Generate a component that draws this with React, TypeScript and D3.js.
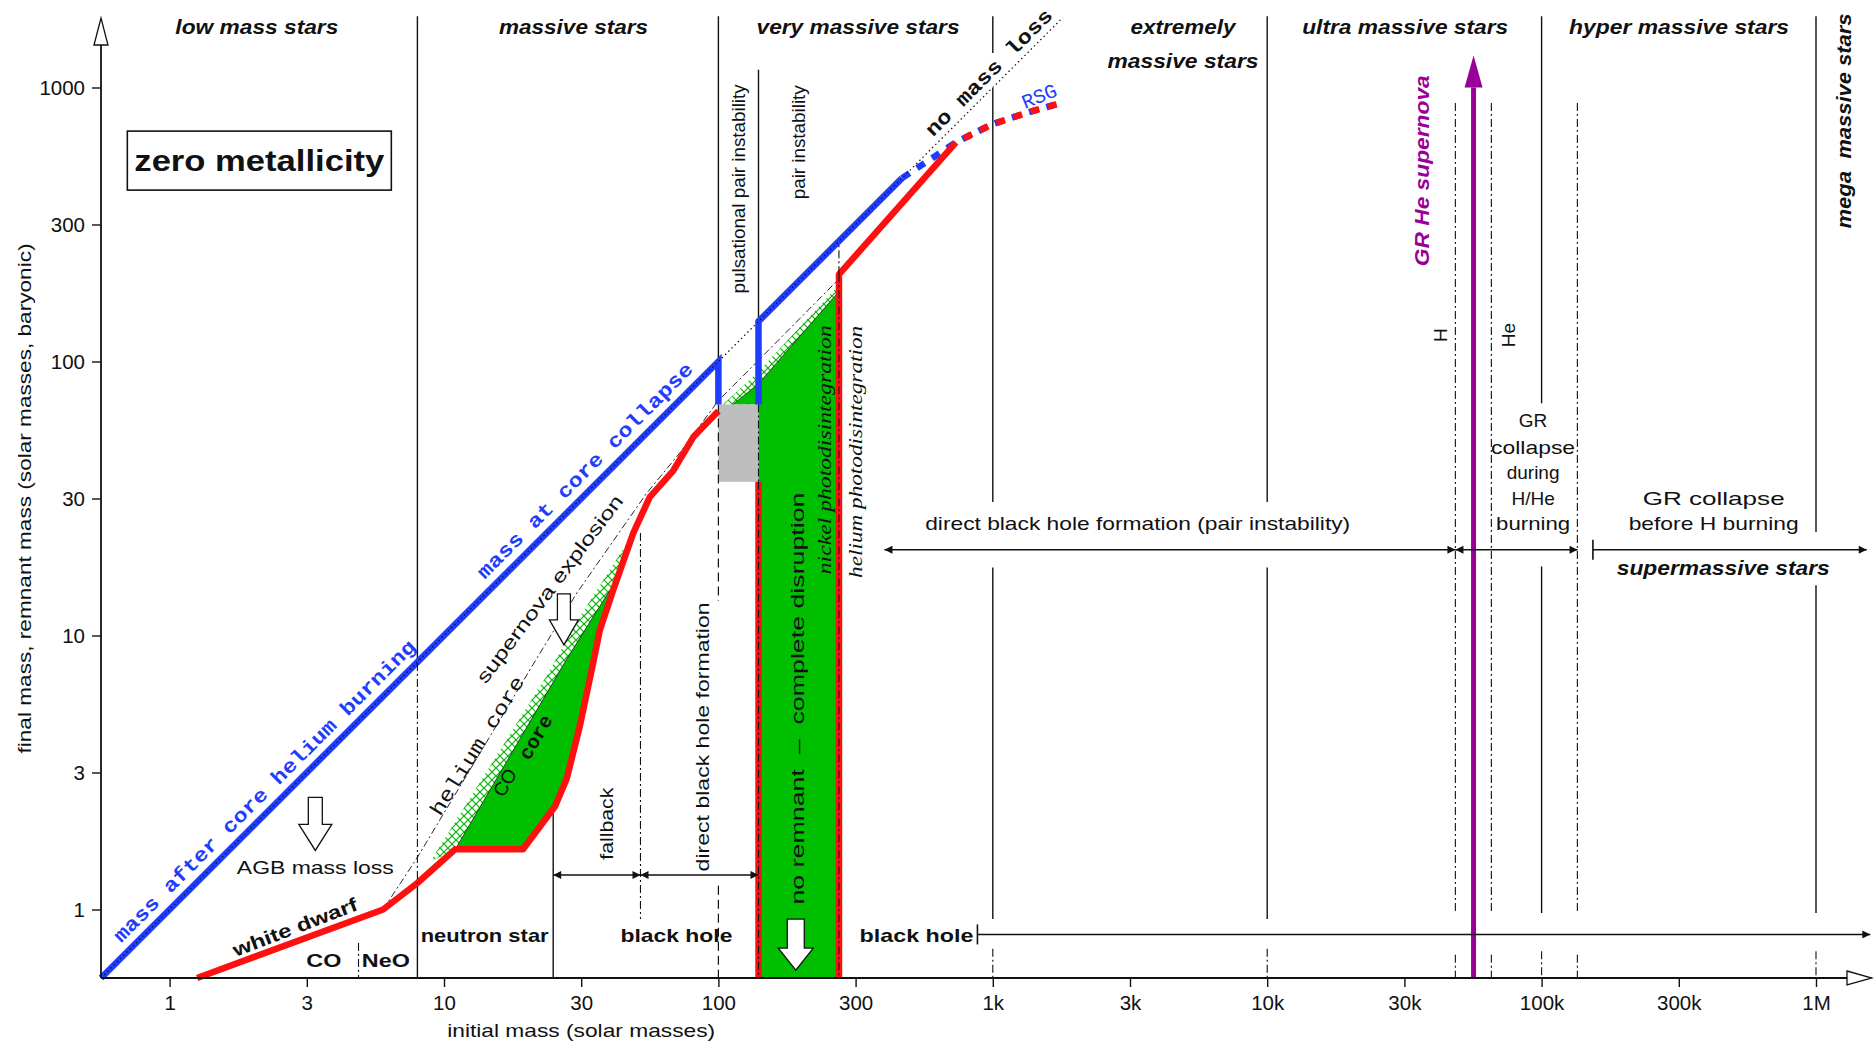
import React, { useEffect, useRef } from 'react';
import * as d3 from 'd3';

const W = 1874;
const H = 1046;
const MIN = 10 ** -0.25;

// tick labels on half decades
const xTickLabels = ['1', '3', '10', '30', '100', '300', '1k', '3k', '10k', '30k', '100k', '300k', '1M'];
const yTickLabels = ['1', '3', '10', '30', '100', '300', '1000'];

// initial mass vs final mass (solar masses)
const noMassLoss = [[MIN, MIN], [1800, 1800]];
const heliumBurningMass = [[MIN, MIN], [100, 100], [100, 69.7]];
const coreCollapseMass = [[140, 69.7], [140, 140], [467, 467]];
const coreCollapseRSG = [[467, 467], [734, 631], [991, 733], [1340, 811], [1775, 878]];
const remnantMass = [
  [1.26, MIN], [6, 1], [8, 1.25], [11, 1.66], [19.4, 1.66], [25.4, 2.38], [28, 3], [31.3, 4.7],
  [35, 8], [37, 10.5], [41.4, 14.7], [48.9, 23.6], [56.2, 32], [68.5, 40], [81, 53], [100, 66],
];
const remnantPPI = [[140, 36.4], [140, MIN]];
const remnantHigh = [[275, MIN], [275, 208], [734, 631]];
const remnantRSG = [[734, 631], [991, 733], [1340, 811], [1775, 878]];
const heliumCore = [
  [6, 1], [8, 1.55], [21.7, 8.2], [30.5, 14.3], [54.7, 33], [72.2, 46.3], [100, 72], [140, 101], [275, 200],
];
const coCoreLow = [[11, 1.66], [28, 8.2], [40, 14.5]];
const coCoreHigh = [[113, 69.7], [140, 83], [275, 180]];
const hatchTopLow = [[8.9, 1.49], [23.6, 7.1], [31.3, 11.7], [48.9, 23.6]];
const hatchTopHigh = [[104, 69.7], [140, 92], [275, 190]];
const ppiBox = { x0: 100, x1: 140, y0: 36.4, y1: 69.7 };
const TOP = 10 ** 3.26;

// vertical markers: [initial mass, from, to]
const solidSegments = [
  [8, TOP, 10 ** 0.9], [8, 10 ** 0.087, MIN],
  [25, 2.36, MIN],
  [100, TOP, 100],
  [140, 10 ** 3.065, 140],
  [1e3, TOP, 10 ** 3.126], [1e3, 10 ** 2.998, 10 ** 1.487], [1e3, 10 ** 1.248, 10 ** -0.035],
  [1e4, TOP, 10 ** 1.487], [1e4, 10 ** 1.248, 10 ** -0.035],
  [1e5, TOP, 10 ** 1.848], [1e5, 10 ** 1.252, 10 ** -0.013],
  [1e6, TOP, 10 ** 1.378], [1e6, 10 ** 1.183, 10 ** -0.013],
];
const dashDotSegments = [
  [8, 10 ** 0.9, 10 ** 0.087],
  [52, 10 ** 1.374, 10 ** -0.035],
  [4.88, 10 ** -0.122, MIN],
  [140, 69.7, 36.4],
  [275, 208, 268],
  [140, 36.4, MIN], [275, 208, MIN],
  [1e3, 10 ** -0.143, MIN], [1e4, 10 ** -0.143, MIN],
  [1e5, 10 ** -0.152, MIN], [1e6, 10 ** -0.152, MIN],
  [48.5e3, 10 ** 2.943, 10 ** -0.013], [48.5e3, 10 ** -0.165, MIN],
  [65.6e3, 10 ** 2.943, 10 ** -0.013], [65.6e3, 10 ** -0.165, MIN],
  [135e3, 10 ** 2.943, 10 ** -0.013], [135e3, 10 ** -0.165, MIN],
];
const dashedSegments = [
  [100, 69.7, 10 ** 1.126], [100, 10 ** 0.087, MIN],
];

// horizontal range arrows, in log10 units: [from, to, at, style]
const rangeArrows = [
  [Math.log10(25), Math.log10(52), 0.126, 'both'],
  [Math.log10(52), Math.log10(140), 0.126, 'both'],
  [2.605, 4.686, 1.313, 'both'],
  [4.686, 5.131, 1.313, 'both'],
  [5.187, 6.185, 1.313, 'bar'],
  [2.944, 6.198, -0.091, 'bar'],
];

// annotations in log10 units
const labels = [
  { t: 'low mass stars', lx: 0.318, ly: 3.222, k: 'region', len: 163 },
  { t: 'massive stars', lx: 1.472, ly: 3.222, k: 'region', len: 149 },
  { t: 'very massive stars', lx: 2.509, ly: 3.222, k: 'region', len: 203 },
  { t: 'extremely', lx: 3.693, ly: 3.222, k: 'region', len: 105 },
  { t: 'massive stars', lx: 3.693, ly: 3.096, k: 'region', len: 151 },
  { t: 'ultra massive stars', lx: 4.503, ly: 3.222, k: 'region', len: 206 },
  { t: 'hyper massive stars', lx: 5.501, ly: 3.222, k: 'region', len: 220 },
  { t: 'mega  massive stars', lx: 6.102, ly: 2.878, k: 'region', len: 215, r: -90 },
  { t: 'supermassive stars', lx: 5.662, ly: 1.248, k: 'region', len: 213 },
  { t: 'pulsational pair instability', lx: 2.073, ly: 2.63, k: 'plain', len: 209, r: -90 },
  { t: 'pair instability', lx: 2.291, ly: 2.8, k: 'plain', len: 114, r: -90 },
  { t: 'supernova explosion', lx: 1.385, ly: 1.17, k: 'plain', len: 230, r: -53 },
  { t: 'AGB mass loss', lx: 0.531, ly: 0.152, k: 'plain', len: 157 },
  { t: 'fallback', lx: 1.594, ly: 0.313, k: 'plain', len: 72, r: -90 },
  { t: 'direct black hole formation', lx: 1.942, ly: 0.63, k: 'plain', len: 269, r: -90 },
  { t: 'no remnant  \u2013  complete disruption', lx: 2.287, ly: 0.77, k: 'plain', len: 412, r: -90 },
  { t: 'direct black hole formation (pair instability)', lx: 3.528, ly: 1.409, k: 'plain', len: 425 },
  { t: 'GR', lx: 4.969, ly: 1.783, k: 'plain' },
  { t: 'collapse', lx: 4.969, ly: 1.687, k: 'plain', len: 84 },
  { t: 'during', lx: 4.969, ly: 1.596, k: 'plain' },
  { t: 'H/He', lx: 4.969, ly: 1.5, k: 'plain' },
  { t: 'burning', lx: 4.969, ly: 1.409, k: 'plain', len: 74 },
  { t: 'GR collapse', lx: 5.627, ly: 1.5, k: 'plain', len: 142 },
  { t: 'before H burning', lx: 5.627, ly: 1.409, k: 'plain', len: 170 },
  { t: 'H', lx: 4.63, ly: 2.096, k: 'plain', r: -90 },
  { t: 'He', lx: 4.878, ly: 2.096, k: 'plain', r: -90 },
  { t: 'CO', lx: 1.222, ly: 0.463, k: 'plain', r: -60 },
  { t: 'white dwarf', lx: 0.457, ly: -0.065, k: 'bold', len: 132, r: -21 },
  { t: 'CO', lx: 0.562, ly: -0.187, k: 'bold', len: 35 },
  { t: 'NeO', lx: 0.788, ly: -0.187, k: 'bold', len: 48 },
  { t: 'neutron star', lx: 1.148, ly: -0.096, k: 'bold', len: 128 },
  { t: 'black hole', lx: 1.847, ly: -0.096, k: 'bold', len: 112 },
  { t: 'black hole', lx: 2.722, ly: -0.096, k: 'bold', len: 114 },
  { t: 'core', lx: 1.337, ly: 0.627, k: 'mono', r: -60 },
  { t: 'helium core', lx: 1.124, ly: 0.596, k: 'monoThin', len: 160, r: -58 },
  { t: 'no mass loss', lx: 2.988, ly: 3.052, k: 'mono', len: 171, r: -45 },
  { t: 'mass after core helium burning', lx: 0.348, ly: 0.43, k: 'monoBlue', len: 418, r: -45 },
  { t: 'mass at core collapse', lx: 1.516, ly: 1.6, k: 'monoBlue', len: 296, r: -45 },
  { t: 'RSG', lx: 3.171, ly: 2.965, k: 'monoBlueThin', r: -22 },
  { t: 'nickel photodisintegration', lx: 2.387, ly: 1.678, k: 'serif', len: 249, r: -90 },
  { t: 'helium photodisintegration', lx: 2.5, ly: 1.67, k: 'serif', len: 252, r: -90 },
  { t: 'GR He supernova', lx: 4.564, ly: 2.696, k: 'purple', len: 191, r: -90 },
];

const SANS = '"Liberation Sans", Arial, Helvetica, sans-serif';
const MONO = '"Liberation Mono", "DejaVu Sans Mono", monospace';
const SERIF = '"Liberation Serif", "DejaVu Serif", serif';
const BLUE = '#1f3dff';
const RED = '#ff1010';
const GREEN = '#00bf00';
const PURPLE = '#990099';

const kindStyle: Record<string, any> = {
  region: { family: SANS, size: 20, weight: 'bold', style: 'italic', fill: '#111' },
  plain: { family: SANS, size: 19, weight: 'normal', style: 'normal', fill: '#111' },
  bold: { family: SANS, size: 19, weight: 'bold', style: 'normal', fill: '#111' },
  mono: { family: MONO, size: 20, weight: 'bold', style: 'normal', fill: '#111' },
  monoThin: { family: MONO, size: 20, weight: 'normal', style: 'normal', fill: '#111' },
  monoBlue: { family: MONO, size: 20, weight: 'bold', style: 'normal', fill: BLUE },
  monoBlueThin: { family: MONO, size: 20, weight: 'normal', style: 'normal', fill: BLUE },
  serif: { family: SERIF, size: 19, weight: 'normal', style: 'italic', fill: '#111' },
  purple: { family: SANS, size: 20, weight: 'bold', style: 'italic', fill: PURPLE },
};

const App = () => {
  const svgRef = useRef<SVGSVGElement>(null);

  useEffect(() => {
    const svg = d3.select(svgRef.current);
    svg.selectAll('*').remove();

    const xs = d3.scaleLog().domain([MIN, 1e6]).range([101, 1816]);
    const ys = d3.scaleLog().domain([MIN, 10 ** 3.25]).range([978, 19]);
    const px = (l: number) => xs(10 ** l);
    const py = (l: number) => ys(10 ** l);
    const line = d3.line<number[]>().x(d => xs(d[0])).y(d => ys(d[1]));

    svg.append('rect').attr('width', W).attr('height', H).attr('fill', '#fff');

    const defs = svg.append('defs');
    const pat = defs.append('pattern')
      .attr('id', 'xhatch').attr('width', 8).attr('height', 8)
      .attr('patternUnits', 'userSpaceOnUse');
    pat.append('rect').attr('width', 8).attr('height', 8).attr('fill', '#fff');
    pat.append('path').attr('d', 'M0,0 L8,8 M8,0 L0,8').attr('stroke', '#00b400').attr('stroke-width', 1.2);
    defs.append('marker')
      .attr('id', 'ahead').attr('viewBox', '0 0 10 10').attr('refX', 10).attr('refY', 5)
      .attr('markerWidth', 12).attr('markerHeight', 8).attr('markerUnits', 'userSpaceOnUse')
      .attr('orient', 'auto-start-reverse')
      .append('path').attr('d', 'M0,0 L10,5 L0,10 Z').attr('fill', '#111');

    // core regions
    const hatchLow = [...hatchTopLow, ...remnantMass.filter(d => d[0] >= 11 && d[0] < 48.9).reverse()];
    const greenLow = [...coCoreLow, ...remnantMass.filter(d => d[0] >= 11 && d[0] <= 41.4).reverse()];
    const hatchHigh = [...hatchTopHigh, [275, MIN], [140, MIN], [140, ppiBox.y1]];
    const greenHigh = [...coCoreHigh, [275, MIN], [140, MIN], [140, ppiBox.y1]];
    [hatchLow, hatchHigh].forEach(p => {
      svg.append('path').attr('d', line(p) + 'Z').attr('fill', 'url(#xhatch)');
    });
    [greenLow, greenHigh].forEach(p => {
      svg.append('path').attr('d', line(p) + 'Z').attr('fill', GREEN);
    });
    svg.append('rect')
      .attr('x', xs(ppiBox.x0)).attr('y', ys(ppiBox.y1))
      .attr('width', xs(ppiBox.x1) - xs(ppiBox.x0))
      .attr('height', ys(ppiBox.y0) - ys(ppiBox.y1))
      .attr('fill', '#bebebe');

    // vertical markers
    const seg = (list: number[][], dash: string | null, w: number) => {
      list.forEach(([x, a, b]) => {
        svg.append('line')
          .attr('x1', xs(x)).attr('x2', xs(x)).attr('y1', ys(a)).attr('y2', ys(b))
          .attr('stroke', '#111').attr('stroke-width', w)
          .attr('stroke-dasharray', dash);
      });
    };
    seg(solidSegments, null, 1.4);
    seg(dashedSegments, '9 5', 1.2);

    // thin core lines
    [coCoreLow, coCoreHigh].forEach(p => {
      svg.append('path').attr('d', line(p)).attr('fill', 'none')
        .attr('stroke', '#222').attr('stroke-width', 0.8);
    });
    svg.append('path').attr('d', line(heliumCore)).attr('fill', 'none')
      .attr('stroke', '#111').attr('stroke-width', 0.9).attr('stroke-dasharray', '7 3 2 3');

    // blue: mass at core collapse
    [heliumBurningMass, coreCollapseMass].forEach(p => {
      svg.append('path').attr('d', line(p)).attr('fill', 'none')
        .attr('stroke', BLUE).attr('stroke-width', 6.5).attr('stroke-linejoin', 'miter');
    });
    svg.append('path').attr('d', line(coreCollapseRSG)).attr('fill', 'none')
      .attr('stroke', BLUE).attr('stroke-width', 6.5).attr('stroke-dasharray', '9 9');

    // red: remnant mass
    [remnantMass, remnantPPI, remnantHigh].forEach(p => {
      svg.append('path').attr('d', line(p)).attr('fill', 'none')
        .attr('stroke', RED).attr('stroke-width', 6.5).attr('stroke-linejoin', 'round');
    });
    svg.append('path').attr('d', line(remnantRSG)).attr('fill', 'none')
      .attr('stroke', RED).attr('stroke-width', 6.5).attr('stroke-dasharray', '9 9')
      .attr('stroke-dashoffset', 9);

    seg(dashDotSegments, '8 3 2 3', 1.1);

    // no mass loss
    svg.append('path').attr('d', line(noMassLoss)).attr('fill', 'none')
      .attr('stroke', '#111').attr('stroke-width', 1.2).attr('stroke-dasharray', '1.5 3');

    // purple GR He supernova arrow
    const pxv = xs(10 ** 4.752);
    svg.append('line').attr('x1', pxv).attr('x2', pxv)
      .attr('y1', ys(MIN)).attr('y2', py(3.0))
      .attr('stroke', PURPLE).attr('stroke-width', 5);
    svg.append('path')
      .attr('d', `M${pxv},${py(3.117)} L${pxv - 9},${py(3.0)} L${pxv + 9},${py(3.0)} Z`)
      .attr('fill', PURPLE);

    // range arrows
    rangeArrows.forEach(([a, b, at, style]) => {
      const l = svg.append('line')
        .attr('x1', px(a as number)).attr('x2', px(b as number))
        .attr('y1', py(at as number)).attr('y2', py(at as number))
        .attr('stroke', '#111').attr('stroke-width', 1.6)
        .attr('marker-end', 'url(#ahead)');
      if (style === 'both') l.attr('marker-start', 'url(#ahead)');
      else {
        svg.append('line')
          .attr('x1', px(a as number)).attr('x2', px(a as number))
          .attr('y1', py(at as number) - 10).attr('y2', py(at as number) + 10)
          .attr('stroke', '#111').attr('stroke-width', 1.6);
      }
    });

    // open arrows
    const openArrow = (cx: number, top: number, sw: number, hw: number, len: number, hl: number) =>
      `M${cx - sw / 2},${top} h${sw} v${len - hl} h${(hw - sw) / 2} L${cx},${top + len} ` +
      `L${cx - hw / 2},${top + len - hl} h${(hw - sw) / 2} Z`;
    svg.append('path').attr('d', openArrow(px(0.531), py(0.409), 14, 33, 53, 26))
      .attr('fill', '#fff').attr('stroke', '#111').attr('stroke-width', 1.3);
    svg.append('path').attr('d', openArrow(px(1.437), py(1.152), 13, 29, 51, 25))
      .attr('fill', '#fff').attr('stroke', '#111').attr('stroke-width', 1.3);
    svg.append('path').attr('d', openArrow(px(2.282), py(-0.035), 17, 35, 51, 22))
      .attr('fill', '#fff').attr('stroke', '#111').attr('stroke-width', 1.3);

    // zero metallicity box
    const bx = px(0.327);
    const by = py(2.735);
    svg.append('rect').attr('x', bx - 132).attr('y', by - 29).attr('width', 264).attr('height', 59)
      .attr('fill', '#fff').attr('stroke', '#111').attr('stroke-width', 1.6);
    svg.append('text').attr('x', bx).attr('y', by).attr('text-anchor', 'middle')
      .attr('dominant-baseline', 'central').attr('font-family', SANS).attr('font-weight', 'bold')
      .attr('font-size', 30).attr('textLength', 250).attr('lengthAdjust', 'spacingAndGlyphs')
      .attr('fill', '#111').text('zero metallicity');

    // annotations
    labels.forEach(d => {
      const s = kindStyle[d.k];
      const t = svg.append('text')
        .attr('transform', `translate(${px(d.lx)},${py(d.ly)}) rotate(${d.r || 0})`)
        .attr('text-anchor', 'middle').attr('dominant-baseline', 'central')
        .attr('font-family', s.family).attr('font-size', s.size)
        .attr('font-weight', s.weight).attr('font-style', s.style)
        .attr('fill', s.fill).style('white-space', 'pre')
        .text(d.t);
      if (d.len) t.attr('textLength', d.len).attr('lengthAdjust', 'spacingAndGlyphs');
    });

    // axes
    const xAxis = d3.axisBottom(xs)
      .tickValues(xTickLabels.map((_, i) => 10 ** (i / 2)))
      .tickFormat((_, i) => xTickLabels[i])
      .tickSize(9).tickPadding(8).tickSizeOuter(0);
    const yAxis = d3.axisLeft(ys)
      .tickValues(yTickLabels.map((_, i) => 10 ** (i / 2)))
      .tickFormat((_, i) => yTickLabels[i])
      .tickSize(9).tickPadding(7).tickSizeOuter(0);
    const gx = svg.append('g').attr('transform', `translate(0,${ys(MIN)})`).call(xAxis);
    const gy = svg.append('g').attr('transform', `translate(${xs(MIN)},0)`).call(yAxis);
    [gx, gy].forEach(g => {
      g.select('.domain').remove();
      g.selectAll('line').attr('stroke', '#111').attr('stroke-width', 1.4);
      g.selectAll('text').attr('font-family', SANS).attr('font-size', 20.5).attr('fill', '#111');
    });

    const x0 = xs(MIN);
    const y0 = ys(MIN);
    svg.append('line').attr('x1', x0).attr('x2', 1847).attr('y1', y0).attr('y2', y0)
      .attr('stroke', '#111').attr('stroke-width', 1.8);
    svg.append('line').attr('x1', x0).attr('x2', x0).attr('y1', y0).attr('y2', 45)
      .attr('stroke', '#111').attr('stroke-width', 1.8);
    svg.append('path').attr('d', `M1847,${y0 - 7} L1872,${y0} L1847,${y0 + 7} Z`)
      .attr('fill', '#fff').attr('stroke', '#111').attr('stroke-width', 1.3);
    svg.append('path').attr('d', `M${x0 - 7},45 L${x0},18 L${x0 + 7},45 Z`)
      .attr('fill', '#fff').attr('stroke', '#111').attr('stroke-width', 1.3);

    svg.append('text').attr('x', px(1.5)).attr('y', 1030)
      .attr('text-anchor', 'middle').attr('dominant-baseline', 'central')
      .attr('font-family', SANS).attr('font-size', 19).attr('fill', '#111')
      .attr('textLength', 268).attr('lengthAdjust', 'spacingAndGlyphs')
      .text('initial mass (solar masses)');
    svg.append('text')
      .attr('transform', `translate(24,${py(1.5)}) rotate(-90)`)
      .attr('text-anchor', 'middle').attr('dominant-baseline', 'central')
      .attr('font-family', SANS).attr('font-size', 19).attr('fill', '#111')
      .attr('textLength', 510).attr('lengthAdjust', 'spacingAndGlyphs')
      .text('final mass, remnant mass (solar masses, baryonic)');
  }, []);

  return (
    <svg ref={svgRef} width={W} height={H} style={{ position: 'absolute', left: 0, top: 0 }} />
  );
};

export default App;
